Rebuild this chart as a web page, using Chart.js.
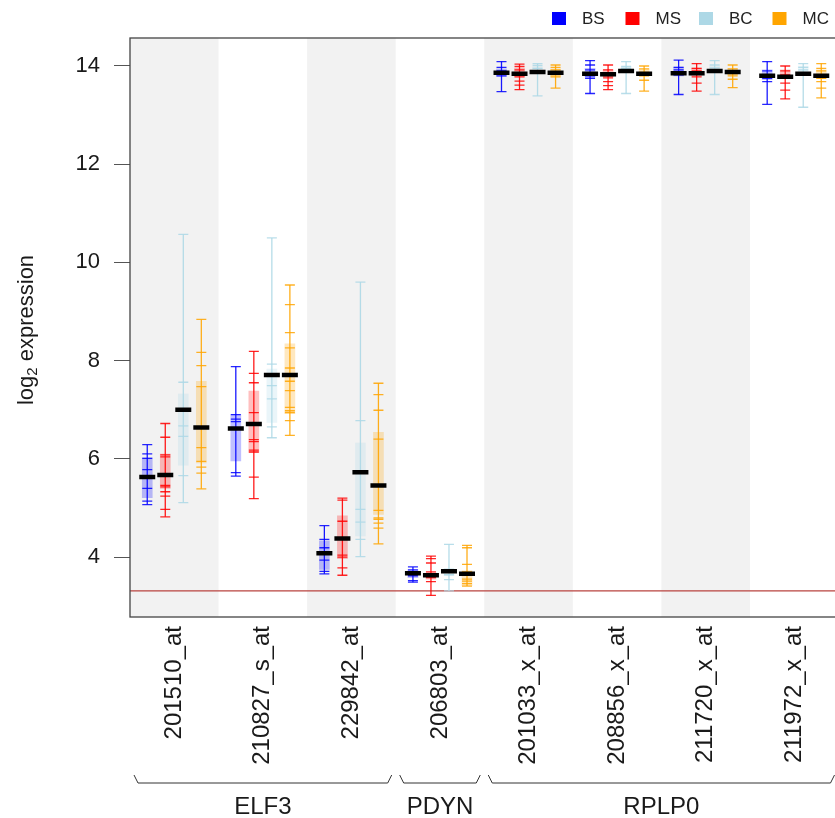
<!DOCTYPE html>
<html lang="en">
<head>
    <meta charset="UTF-8">
    <title>log2 expression by probeset</title>
    <style>
        html, body {
            margin: 0;
            padding: 0;
            background: #fff;
            overflow: hidden;
        }
        #wrap {
            width: 851px;
            height: 818px;
        }
    </style>
    <script src="https://cdn.jsdelivr.net/npm/chart.js"></script>
</head>
<body>
    <div id="wrap"><canvas id="chart" width="851" height="818"></canvas></div>
    <script>
        // probesets on the x axis, and the gene each block belongs to
        const probes = ['201510_at', '210827_s_at', '229842_at', '206803_at', '201033_x_at', '208856_x_at', '211720_x_at', '211972_x_at'];
        const geneNames = ['ELF3', 'PDYN', 'RPLP0'];
        const geneFirst = [0, 3, 4];
        const geneLast = [2, 3, 7];

        const groups = ['BS', 'MS', 'BC', 'MC'];
        const groupColors = ['0,0,255', '255,0,0', '173,216,230', '255,165,0'];

        const yTicks = [4, 6, 8, 10, 12, 14];
        const yMin = 2.78;
        const yMax = 14.57;
        const threshold = 3.31;

        // per-sample values (one list per probeset)
        const samplesBS = [
            [6.29, 6.10, 6.01, 5.78, 5.40, 5.14, 5.07],
            [7.88, 6.90, 6.81, 6.76, 5.72, 5.65],
            [4.64, 4.36, 4.19, 3.94, 3.71, 3.66],
            [3.80, 3.74, 3.62, 3.52, 3.49],
            [14.09, 13.97, 13.90, 13.80, 13.48],
            [14.11, 14.02, 13.92, 13.80, 13.75, 13.44],
            [14.12, 13.97, 13.92, 13.82, 13.42],
            [14.09, 13.90, 13.75, 13.68, 13.22]
        ];
        const samplesMS = [
            [6.72, 6.44, 6.08, 6.04, 5.46, 5.43, 5.33, 5.24, 4.97, 4.82],
            [8.19, 7.74, 7.55, 6.94, 6.39, 6.35, 6.18, 6.14, 5.63, 5.19],
            [5.20, 5.16, 4.73, 4.04, 4.00, 3.78, 3.63],
            [4.02, 3.97, 3.88, 3.70, 3.58, 3.50, 3.22],
            [14.04, 13.99, 13.92, 13.78, 13.69, 13.61, 13.52],
            [14.02, 13.92, 13.80, 13.76, 13.68, 13.60, 13.52],
            [14.05, 13.95, 13.90, 13.78, 13.65, 13.49],
            [14.00, 13.90, 13.82, 13.65, 13.51, 13.33]
        ];
        const samplesBC = [
            [10.57, 7.56, 6.67, 6.46, 5.66, 5.11],
            [10.50, 7.93, 7.49, 7.22, 6.65, 6.43],
            [9.60, 6.78, 4.97, 4.71, 4.36, 4.01],
            [4.26, 3.75, 3.64, 3.54, 3.31],
            [14.05, 14.01, 13.95, 13.85, 13.39],
            [14.09, 13.99, 13.95, 13.44],
            [14.11, 14.02, 13.96, 13.42],
            [14.05, 13.97, 13.92, 13.16]
        ];
        const samplesMC = [
            [8.84, 8.17, 7.90, 7.47, 6.23, 5.95, 5.83, 5.71, 5.39],
            [9.54, 9.14, 8.57, 8.26, 7.85, 7.58, 7.39, 7.05, 6.98, 6.94, 6.78, 6.48],
            [7.54, 7.31, 6.99, 6.40, 4.95, 4.80, 4.77, 4.69, 4.59, 4.27],
            [4.24, 4.19, 3.85, 3.70, 3.55, 3.51, 3.46, 3.41],
            [14.02, 13.97, 13.92, 13.82, 13.78, 13.55],
            [14.00, 13.94, 13.87, 13.80, 13.71, 13.49],
            [14.02, 13.94, 13.84, 13.80, 13.73, 13.56],
            [14.05, 13.95, 13.90, 13.75, 13.68, 13.55, 13.35]
        ];

        // medians (black bars)
        const medianBS = [5.63, 6.62, 4.08, 3.67, 13.86, 13.84, 13.85, 13.80];
        const medianMS = [5.67, 6.71, 4.38, 3.63, 13.84, 13.83, 13.85, 13.78];
        const medianBC = [7.00, 7.71, 5.73, 3.71, 13.88, 13.90, 13.90, 13.84];
        const medianMC = [6.64, 7.71, 5.46, 3.66, 13.86, 13.84, 13.88, 13.80];

        // shaded boxes (low / high)
        const boxLoBS = [5.21, 5.96, 3.75, 3.58, 13.79, 13.78, 13.80, 13.72];
        const boxHiBS = [6.02, 6.90, 4.33, 3.74, 13.94, 13.95, 13.98, 13.92];
        const boxLoMS = [5.40, 6.13, 3.97, 3.55, 13.78, 13.78, 13.80, 13.74];
        const boxHiMS = [6.10, 7.38, 4.84, 3.68, 13.95, 13.92, 13.96, 13.92];
        const boxLoBC = [5.87, 6.74, 4.43, 3.62, 13.87, 13.87, 13.88, 13.85];
        const boxHiBC = [7.32, 7.83, 6.32, 3.76, 13.98, 13.99, 14.00, 14.00];
        const boxLoMC = [5.92, 6.92, 4.87, 3.42, 13.78, 13.80, 13.82, 13.74];
        const boxHiMC = [7.58, 8.34, 6.54, 3.72, 13.94, 13.94, 13.94, 13.92];

        const allSamples = [samplesBS, samplesMS, samplesBC, samplesMC];
        const allMedians = [medianBS, medianMS, medianBC, medianMC];
        const allBoxLo = [boxLoBS, boxLoMS, boxLoBC, boxLoMC];
        const allBoxHi = [boxHiBS, boxHiMS, boxHiBC, boxHiMC];

        const GROUP_STEP = 0.2035; // distance between group columns inside one probeset
        const FONT = '"Liberation Sans", Arial, sans-serif';

        function xpos(i, g) {
            return i + 0.5 + (g - 1.5) * GROUP_STEP;
        }

        const medianSets = [];
        const tickSets = [];
        const whiskerSets = [];
        const boxSets = [];

        groups.forEach((name, g) => {
            const rgb = groupColors[g];
            const medPts = [];
            const tickPts = [];
            const whiskPts = [];
            const boxPts = [];
            probes.forEach((p, i) => {
                const x = xpos(i, g);
                const s = allSamples[g][i];
                s.forEach(v => tickPts.push({ x: x, y: v }));
                whiskPts.push({ x: x, y: Math.min(...s) });
                whiskPts.push({ x: x, y: Math.max(...s) });
                whiskPts.push({ x: x, y: null });
                medPts.push({ x: x, y: allMedians[g][i] });
                boxPts.push({ x: x, y: [allBoxLo[g][i], allBoxHi[g][i]] });
            });
            medianSets.push({
                type: 'scatter', label: name + ' median', data: medPts,
                pointStyle: 'line', pointRadius: 8, pointBorderWidth: 4.5,
                borderColor: '#000', backgroundColor: '#000'
            });
            tickSets.push({
                type: 'scatter', label: name, data: tickPts,
                pointStyle: 'line', pointRadius: 5, pointBorderWidth: 1.3,
                borderColor: `rgba(${rgb},0.85)`, backgroundColor: `rgba(${rgb},0.85)`
            });
            whiskerSets.push({
                type: 'scatter', label: name + ' range', data: whiskPts,
                showLine: true, spanGaps: false, pointRadius: 0, borderWidth: 1.3,
                borderColor: `rgba(${rgb},0.9)`
            });
            boxSets.push({
                type: 'bar', label: name + ' box', data: boxPts,
                barThickness: 10, grouped: false,
                backgroundColor: `rgba(${rgb},0.25)`, borderWidth: 0
            });
        });

        const thresholdSet = {
            type: 'scatter', label: 'threshold',
            data: [{ x: 0, y: threshold }, { x: probes.length, y: threshold }],
            showLine: true, pointRadius: 0, borderWidth: 1.2, borderColor: '#b8433f'
        };

        // first dataset is drawn on top
        const datasets = [...medianSets, ...tickSets, ...whiskerSets, ...boxSets, thresholdSet];

        const decorPlugin = {
            id: 'decor',
            beforeDatasetsDraw(chart) {
                const ctx = chart.ctx;
                const area = chart.chartArea;
                const xs = chart.scales.x;
                ctx.save();
                ctx.fillStyle = '#f2f2f2';
                for (let i = 0; i < probes.length; i += 2) {
                    const x0 = xs.getPixelForValue(i);
                    const x1 = xs.getPixelForValue(i + 1);
                    ctx.fillRect(x0, area.top, x1 - x0, area.bottom - area.top);
                }
                ctx.restore();
            },
            afterDraw(chart) {
                const ctx = chart.ctx;
                const area = chart.chartArea;
                const xs = chart.scales.x;
                ctx.save();

                // frame
                ctx.strokeStyle = '#444';
                ctx.lineWidth = 1.3;
                ctx.strokeRect(area.left, area.top, area.right - area.left, area.bottom - area.top);

                // rotated probeset labels
                ctx.fillStyle = '#1a1a1a';
                ctx.font = '24px ' + FONT;
                ctx.textAlign = 'right';
                ctx.textBaseline = 'middle';
                probes.forEach((p, i) => {
                    ctx.save();
                    ctx.translate(xs.getPixelForValue(i + 0.5), area.bottom + 9);
                    ctx.rotate(-Math.PI / 2);
                    ctx.fillText(p, 0, 0);
                    ctx.restore();
                });

                // gene brackets
                const by = 783;
                ctx.strokeStyle = '#333';
                ctx.lineWidth = 1;
                ctx.textAlign = 'center';
                ctx.textBaseline = 'alphabetic';
                ctx.font = '24px ' + FONT;
                geneNames.forEach((gname, k) => {
                    const x0 = xs.getPixelForValue(geneFirst[k]) + 4;
                    const x1 = xs.getPixelForValue(geneLast[k] + 1) - 4;
                    ctx.beginPath();
                    ctx.moveTo(x0, by - 8);
                    ctx.lineTo(x0 + 4, by);
                    ctx.lineTo(x1 - 4, by);
                    ctx.lineTo(x1, by - 8);
                    ctx.stroke();
                    ctx.fillText(gname, (x0 + x1) / 2, 814);
                });

                // y axis title with subscript
                ctx.save();
                ctx.translate(27, 330);
                ctx.rotate(-Math.PI / 2);
                ctx.textBaseline = 'middle';
                ctx.textAlign = 'left';
                ctx.font = '22px ' + FONT;
                const w1 = ctx.measureText('log').width;
                ctx.font = '15px ' + FONT;
                const w2 = ctx.measureText('2').width;
                ctx.font = '22px ' + FONT;
                const w3 = ctx.measureText(' expression').width;
                let tx = -(w1 + w2 + w3) / 2;
                ctx.fillText('log', tx, 0);
                ctx.font = '15px ' + FONT;
                ctx.fillText('2', tx + w1, 6);
                ctx.font = '22px ' + FONT;
                ctx.fillText(' expression', tx + w1 + w2, 0);
                ctx.restore();

                // legend
                ctx.font = '17px ' + FONT;
                ctx.textAlign = 'left';
                ctx.textBaseline = 'middle';
                groups.forEach((name, g) => {
                    const lx = 552 + g * 73.5;
                    ctx.fillStyle = `rgb(${groupColors[g]})`;
                    ctx.fillRect(lx, 12, 14, 13);
                    ctx.fillStyle = '#222';
                    ctx.fillText(name, lx + 30, 19);
                });

                ctx.restore();
            }
        };

        new Chart(document.getElementById('chart'), {
            type: 'scatter',
            data: { datasets: datasets },
            options: {
                responsive: false,
                animation: false,
                devicePixelRatio: 1,
                layout: { padding: { top: 38, right: 7, bottom: 201, left: 0 } },
                plugins: {
                    legend: { display: false },
                    tooltip: { enabled: false }
                },
                scales: {
                    x: {
                        type: 'linear',
                        min: 0,
                        max: probes.length,
                        offset: false,
                        display: false
                    },
                    y: {
                        type: 'linear',
                        min: yMin,
                        max: yMax,
                        afterBuildTicks: scale => {
                            scale.ticks = yTicks.map(v => ({ value: v }));
                        },
                        afterFit: scale => {
                            scale.width = 130;
                        },
                        border: { display: false },
                        grid: {
                            drawOnChartArea: false,
                            drawTicks: true,
                            tickLength: 16,
                            color: '#555'
                        },
                        ticks: {
                            padding: 14,
                            color: '#1a1a1a',
                            font: { size: 22, family: FONT }
                        }
                    }
                }
            },
            plugins: [decorPlugin]
        });
    </script>
</body>
</html>
